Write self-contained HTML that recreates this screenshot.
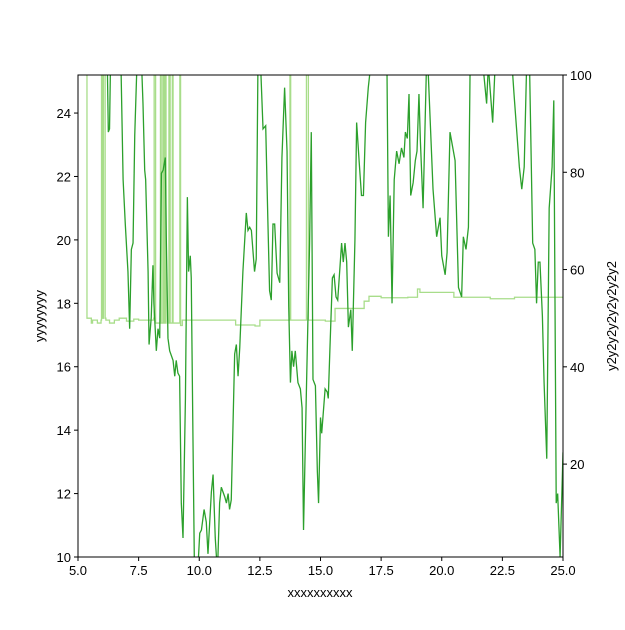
<!DOCTYPE html>
<html><head><meta charset="utf-8"><style>
body{margin:0;background:#fff}
text{font-family:"Liberation Sans","DejaVu Sans",sans-serif;font-size:13px;fill:#000}
</style></head><body>
<svg id="chart" width="625" height="625" xmlns="http://www.w3.org/2000/svg">
<defs><clipPath id="clip"><rect x="78" y="75" width="485" height="482"/></clipPath></defs>
<rect width="625" height="625" fill="#fff"/>
<g id="series" clip-path="url(#clip)"></g>
<rect x="78" y="75" width="485" height="482" fill="none" stroke="#000" stroke-width="1"/>
<g id="axes"></g>
<text x="320" y="597" text-anchor="middle">xxxxxxxxxx</text>
<text transform="translate(44,316) rotate(-90)" text-anchor="middle">yyyyyyyy</text>
<text transform="translate(616,316) rotate(-90)" text-anchor="middle">y2y2y2y2y2y2y2y2</text>
</svg>
<script>
const darkX=[5.9,6.2,6.25,6.3,6.35,6.76,6.86,6.95,7.06,7.13,
7.2,7.27,7.34,7.45,7.6,7.68,7.75,7.79,7.89,7.93,
8.02,8.09,8.13,8.23,8.3,8.37,8.44,8.51,8.6,8.64,
8.71,8.78,8.92,8.99,9.05,9.12,9.19,9.26,9.33,9.43,
9.51,9.56,9.63,9.67,9.74,9.81,9.9,10.02,10.09,10.2,
10.29,10.36,10.5,10.57,10.66,10.75,10.84,10.91,11.05,11.12,
11.19,11.25,11.32,11.46,11.53,11.6,11.67,11.8,11.94,12.01,
12.08,12.15,12.28,12.35,12.42,12.53,12.63,12.74,12.83,12.9,
12.97,13.04,13.11,13.21,13.32,13.41,13.52,13.62,13.69,13.76,
13.82,13.89,13.96,14.07,14.17,14.24,14.3,14.42,14.55,14.62,
14.69,14.79,14.87,14.92,15.0,15.05,15.19,15.28,15.32,15.39,
15.49,15.56,15.64,15.71,15.87,15.94,
16.01,16.08,16.15,16.25,16.31,16.42,16.49,16.6,16.69,16.77,
16.86,16.97,17.07,17.74,17.8,17.87,17.95,18.04,18.14,18.24,
18.34,18.44,18.5,18.58,18.65,18.72,18.82,18.91,18.98,19.06,
19.12,19.23,19.37,19.43,19.64,19.79,19.93,20.0,20.14,20.22,
20.34,20.55,20.69,20.82,20.89,21.0,21.1,21.17,21.7,21.85,
21.92,22.1,22.2,22.9,22.98,23.2,23.3,23.4,23.5,23.62,
23.75,23.84,23.91,23.98,24.05,24.15,24.22,24.33,24.43,24.55,
24.62,24.72,24.78,24.88,25.0];
const darkY=[26,26,23.4,23.5,26,26,21.9,20.5,19.0,17.2,
19.7,19.9,23.3,26,26,24.3,22.2,21.9,19.0,16.7,
17.55,19.2,18.0,16.5,17.2,16.9,22.1,22.2,22.6,20.1,
16.9,16.5,16.2,15.7,16.2,15.8,15.7,11.7,10.6,15.0,
21.35,19.0,19.5,18.8,13.8,9.0,9.0,10.75,10.85,11.5,
11.1,10.1,12.05,12.6,10.6,9.5,11.7,12.2,11.9,11.7,
12.0,11.5,11.8,16.4,16.7,15.7,16.6,19.0,20.85,20.3,
20.4,20.3,19.0,19.4,25.5,25.5,23.5,23.6,20.6,18.4,
18.1,20.5,20.5,18.95,18.65,22.6,24.8,22.8,17.9,15.5,
16.5,16.0,16.5,15.5,15.3,14.7,10.85,15.3,19.9,23.4,
15.6,15.4,12.7,11.7,14.4,13.9,15.3,15.2,15.0,16.6,
18.8,18.9,18.2,18.1,19.9,19.3,
19.9,19.3,17.25,17.8,16.5,20.0,23.7,22.4,21.4,21.4,
23.7,24.8,25.5,25.5,20.1,21.4,18.0,21.9,22.8,22.4,
22.9,22.6,23.4,23.2,24.6,21.4,21.8,22.5,22.8,24.6,
23.1,21.0,25.5,25.5,21.6,20.1,20.7,19.5,18.9,19.6,
23.4,22.5,18.5,18.2,20.1,19.7,20.4,25.5,25.5,24.3,
25.5,23.7,25.5,25.5,24.6,22.3,21.6,22.3,25.5,25.5,
19.9,19.7,18.0,19.3,19.3,17.6,15.5,13.1,21.0,22.3,
24.4,11.7,12.0,10.0,13.3];
const lightX=[5.33,5.35,5.37,5.55,5.6,5.8,5.95,5.97,6.0,6.05,6.08,6.12,6.15,6.3,6.5,6.7,7.0,7.3,7.5,7.8,8.12,8.14,8.17,8.2,8.38,8.4,8.43,8.48,8.5,8.53,8.58,8.6,8.63,8.75,8.77,8.8,8.87,8.89,8.92,9.18,9.2,9.23,9.3,9.6,10.0,10.4,10.8,11.2,11.5,11.8,12.3,12.5,12.8,13.2,13.72,13.74,13.77,14.4,14.42,14.47,14.5,15.0,15.2,15.3,15.6,15.9,16.1,16.4,16.6,16.8,17.0,17.5,18.0,18.1,18.6,19.0,19.1,19.5,20.0,20.5,21.0,21.5,22.0,22.6,23.0,23.6,24.0,24.5,25.0];
const lightY=[100,100,50,49,49.6,49,49.6,100,50,100,100,50,49.6,49,49.6,50,49.4,49.8,49.6,49.6,50,100,100,49,49,100,49,49,100,49,100,49,100,49,100,49,49,100,49,49,100,48.5,49.6,49.6,49.6,49.6,49.6,49.6,48.6,48.6,48.4,49.6,49.6,49.6,49.6,100,49.6,49.6,100,100,49.6,49.6,49.4,49.4,52,52,52,52,52,53.5,54.5,54.2,54.2,54.2,54.3,56,55.3,55.3,55.3,54.3,54.3,54.3,54.0,54.0,54.3,54.3,54.3,54.3,54.3];
const xTicks=[5,7.5,10,12.5,15,17.5,20,22.5,25];
const yTicks=[10,12,14,16,18,20,22,24];
const y2Ticks=[20,40,60,80,100];
const L=78,R=563,T=75,B=557;
const sx=v=>L+(v-5)/20*(R-L);
const sy=v=>B-(v-10)/(25.2-10)*(B-T);
const sy2=v=>B-(v-0.9)/(100-0.9)*(B-T);
const NS="http://www.w3.org/2000/svg";
const g=document.getElementById('series');
const ax=document.getElementById('axes');
function mk(tag,attrs,parent){const e=document.createElementNS(NS,tag);for(const k in attrs)e.setAttribute(k,attrs[k]);parent.appendChild(e);return e;}
let d='M'+sx(lightX[0])+','+sy2(lightY[0]);
for(let i=1;i<lightX.length;i++){d+=' H'+sx(lightX[i])+' V'+sy2(lightY[i]);}
const pl=mk('path',{fill:'none',stroke:'#a8dd8a','stroke-width':1.3,d:d},g);


const pd=mk('polyline',{fill:'none',stroke:'#2ca02c','stroke-width':1.3,points:darkX.map((x,i)=>sx(x)+','+sy(darkY[i])).join(' ')},g);


xTicks.forEach(t=>{const x=sx(t);
 const l=mk('line',{x1:x,x2:x,y1:B,y2:B+4,stroke:'#000'},ax);
 
 
 const tx=mk('text',{x:x,y:B+18,'text-anchor':'middle'},ax);tx.textContent=t.toFixed(1);
 
 });
yTicks.forEach(t=>{const y=sy(t);
 const l=mk('line',{x1:L-4,x2:L,y1:y,y2:y,stroke:'#000'},ax);
 
 
 const tx=mk('text',{x:L-7,y:y+5,'text-anchor':'end'},ax);tx.textContent=t;
 
 });
y2Ticks.forEach(t=>{const y=sy2(t);
 const l=mk('line',{x1:R,x2:R+4,y1:y,y2:y,stroke:'#000'},ax);
 
 
 const tx=mk('text',{x:R+7,y:y+5,'text-anchor':'start'},ax);tx.textContent=t;
 
 });
</script>
</body></html>
